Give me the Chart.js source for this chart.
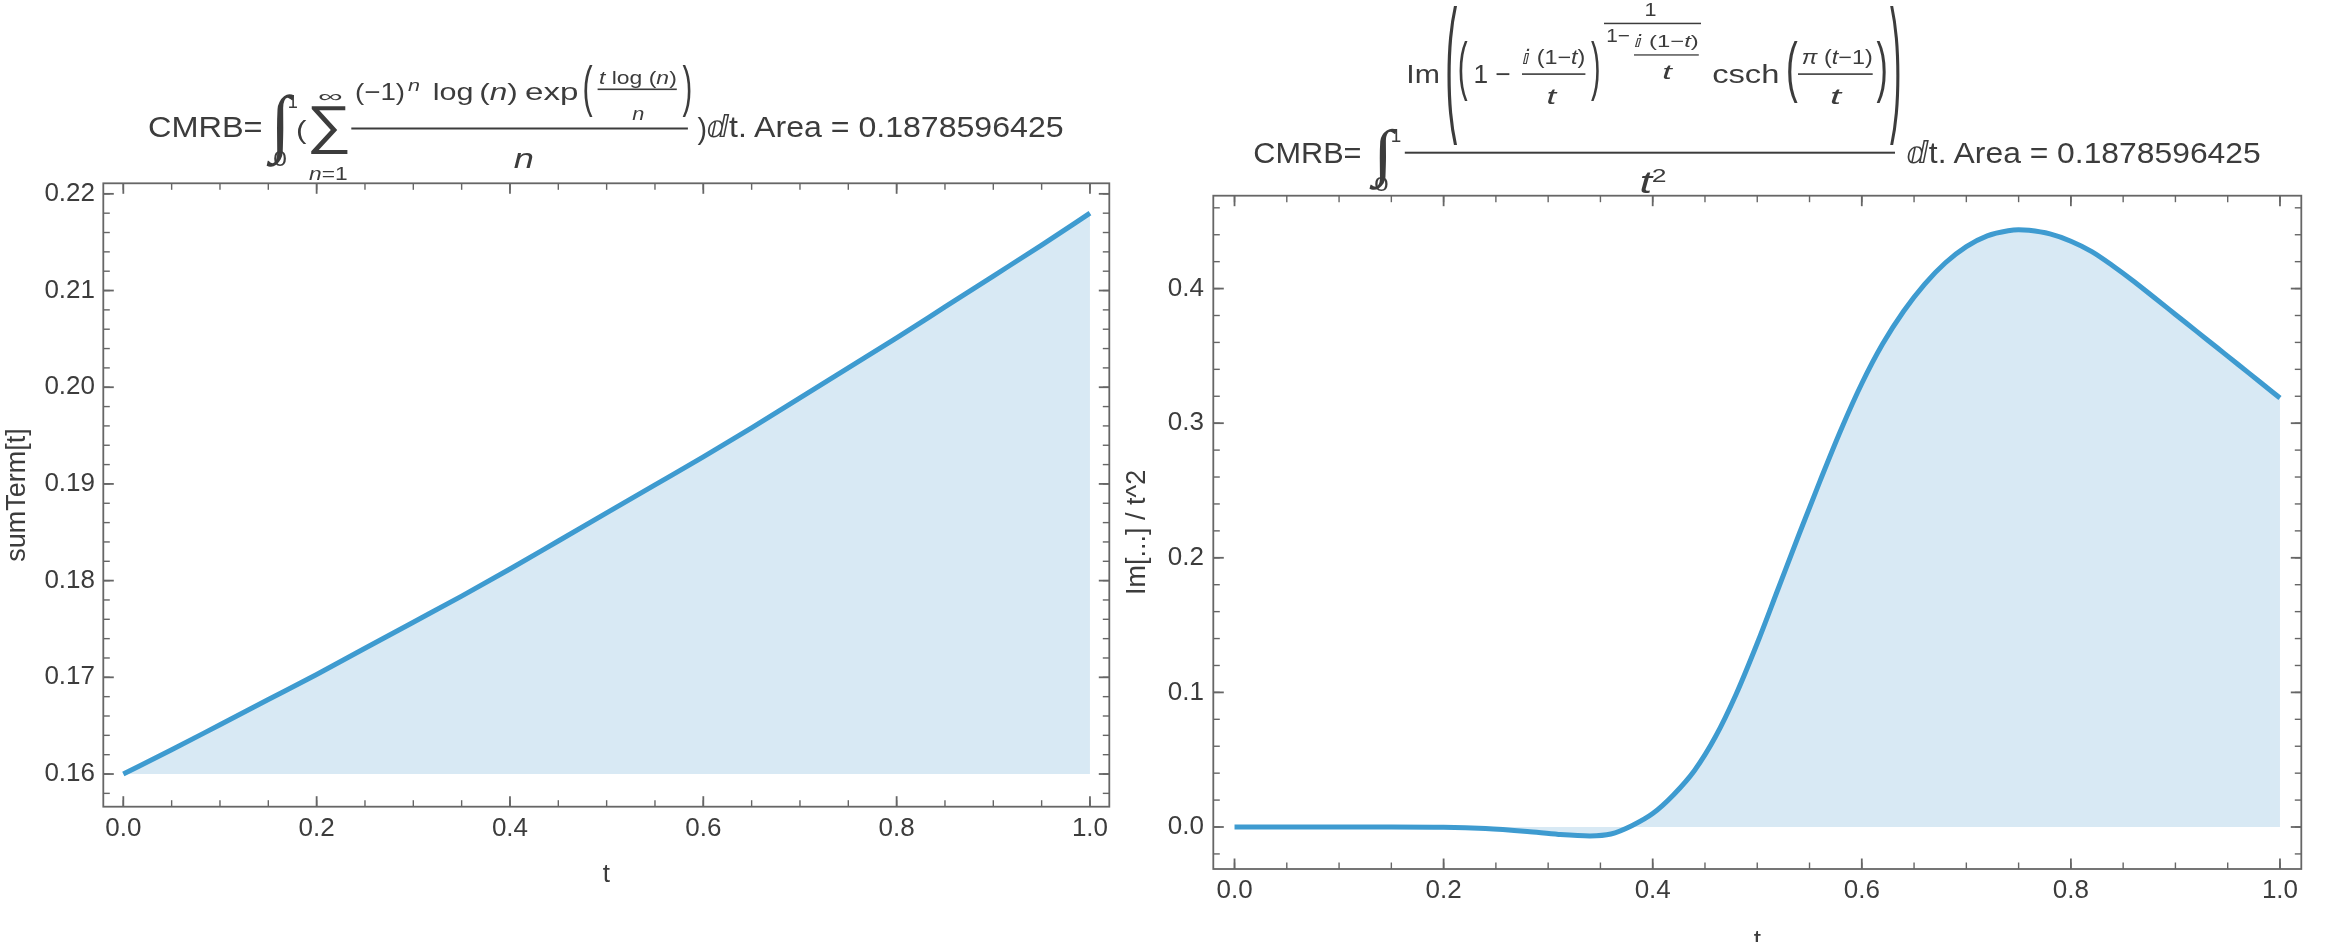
<!DOCTYPE html>
<html>
<head>
<meta charset="utf-8">
<script src="https://cdn.jsdelivr.net/npm/chart.js@4.4.1/dist/chart.umd.min.js"></script>
<style>
  html, body { margin: 0; padding: 0; background: #fff; overflow: hidden; }
  #wrap { position: relative; width: 2330px; height: 942px; overflow: hidden; }
  #leftChart { position: absolute; left: 0; top: 0; }
  #rightChart { position: absolute; left: 1112px; top: 0; }
  #titles { position: absolute; left: 0; top: 0; pointer-events: none; }
</style>
</head>
<body>
<div id="wrap">
  <canvas id="leftChart" width="1165" height="942"></canvas>
  <canvas id="rightChart" width="1218" height="1000"></canvas>
  <svg id="titles" width="2330" height="942" xmlns="http://www.w3.org/2000/svg"></svg>
</div>
<script>
// ---- data ----
const leftT = [0, 0.05, 0.1, 0.15, 0.2, 0.25, 0.3, 0.35, 0.4, 0.45, 0.5,
               0.55, 0.6, 0.65, 0.7, 0.75, 0.8, 0.85, 0.9, 0.95, 1.0];
const leftSum = [0.1600, 0.1625, 0.1651, 0.1677, 0.1703, 0.1730, 0.1757, 0.1784, 0.1812, 0.1841, 0.1870,
                 0.1899, 0.1928, 0.1958, 0.1989, 0.2020, 0.2051, 0.2083, 0.2115, 0.2147, 0.2180];

const rightT = [0, 0.05, 0.10, 0.15, 0.20, 0.24, 0.28, 0.31, 0.34, 0.36, 0.38, 0.40, 0.42, 0.44,
                0.46, 0.48, 0.50, 0.52, 0.54, 0.56, 0.58, 0.60, 0.62, 0.64, 0.66, 0.68, 0.70, 0.72,
                0.74, 0.75, 0.76, 0.78, 0.80, 0.82, 0.84, 0.86, 0.88, 0.90, 0.92, 0.94, 0.96, 0.98, 1.00];
const rightIm = [0, 0, 0, 0, -0.0002, -0.0012, -0.0034, -0.0055, -0.0066, -0.0052, 0.0010, 0.0100, 0.0240, 0.0420,
                 0.0670, 0.0990, 0.1365, 0.1770, 0.2175, 0.2570, 0.2950, 0.3295, 0.3590, 0.3832, 0.4032, 0.4192, 0.4312, 0.4392,
                 0.4430, 0.4437, 0.4433, 0.4406, 0.4352, 0.4275, 0.4170, 0.4055, 0.3932, 0.3808, 0.3684, 0.3560, 0.3436, 0.3311, 0.3187];

const xTicks = [0, 0.2, 0.4, 0.6, 0.8, 1.0];
const leftYTicks = [0.16, 0.17, 0.18, 0.19, 0.20, 0.21, 0.22];
const rightYTicks = [0, 0.1, 0.2, 0.3, 0.4];

const lineBlue = 'rgb(62,155,208)';
const fillBlue = 'rgb(216,233,244)';
const frameGray = 'rgb(102,102,102)';
const textGray = 'rgb(60,60,60)';

Chart.defaults.font.family = '"Liberation Sans", Arial, sans-serif';
Chart.defaults.color = textGray;

// Mathematica style frame: box plus inward major/minor ticks on all four sides
const framePlugin = {
  id: 'frame',
  afterDraw(chart, args, opts) {
    const { ctx, chartArea: a, scales } = chart;
    const xs = scales.x, ys = scales.y;
    ctx.save();
    ctx.strokeStyle = frameGray;
    const seg = (x1, y1, x2, y2, w) => {
      ctx.lineWidth = w;
      ctx.beginPath(); ctx.moveTo(x1, y1); ctx.lineTo(x2, y2); ctx.stroke();
    };
    const step = (from, to, d) => {
      const out = [];
      for (let i = 0; from + i * d <= to + 1e-9; i++) out.push(+(from + i * d).toFixed(6));
      return out;
    };
    step(opts.xMinor[0], opts.xMinor[1], opts.xMinor[2]).forEach(v => {
      const p = xs.getPixelForValue(v);
      if (p < a.left || p > a.right) return;
      seg(p, a.bottom, p, a.bottom - 6.5, 1.4);
      seg(p, a.top, p, a.top + 6.5, 1.4);
    });
    step(opts.yMinor[0], opts.yMinor[1], opts.yMinor[2]).forEach(v => {
      const p = ys.getPixelForValue(v);
      if (p < a.top || p > a.bottom) return;
      seg(a.left, p, a.left + 6.5, p, 1.4);
      seg(a.right, p, a.right - 6.5, p, 1.4);
    });
    xTicks.forEach(v => {
      const p = xs.getPixelForValue(v);
      seg(p, a.bottom, p, a.bottom - 10.5, 1.8);
      seg(p, a.top, p, a.top + 10.5, 1.8);
    });
    opts.yMajor.forEach(v => {
      const p = ys.getPixelForValue(v);
      seg(a.left, p, a.left + 10.5, p, 1.8);
      seg(a.right, p, a.right - 10.5, p, 1.8);
    });
    ctx.lineWidth = 1.8;
    ctx.strokeRect(a.left, a.top, a.right - a.left, a.bottom - a.top);
    ctx.restore();
  }
};

function makeChart(id, cfg) {
  return new Chart(document.getElementById(id), {
    type: 'line',
    data: {
      datasets: [{
        data: cfg.t.map((t, i) => ({ x: t, y: cfg.v[i] })),
        borderColor: lineBlue,
        borderWidth: 5,
        pointRadius: 0,
        cubicInterpolationMode: 'monotone',
        fill: { value: cfg.fillTo },
        backgroundColor: fillBlue
      }]
    },
    options: {
      responsive: false,
      animation: false,
      layout: { padding: cfg.padding },
      plugins: {
        legend: { display: false },
        tooltip: { enabled: false },
        frame: { xMinor: [0, 1, 0.05], yMinor: cfg.yMinor, yMajor: cfg.yTicks }
      },
      scales: {
        x: {
          type: 'linear',
          min: cfg.xMin, max: cfg.xMax,
          afterBuildTicks: s => { s.ticks = xTicks.map(v => ({ value: v })); },
          afterFit: s => { s.height = cfg.xHeight; },
          ticks: { padding: 6.7, font: { size: 26 }, color: textGray, maxRotation: 0, autoSkip: false,
                   callback: v => v.toFixed(1) },
          grid: { display: false, drawTicks: false },
          border: { display: false },
          title: { display: true, text: 't', font: { size: 26 }, color: textGray,
                   padding: { top: 0, bottom: cfg.xTitlePad } }
        },
        y: {
          type: 'linear',
          min: cfg.yMin, max: cfg.yMax,
          afterBuildTicks: s => { s.ticks = cfg.yTicks.map(v => ({ value: v })); },
          afterFit: s => { s.width = cfg.yWidth; },
          ticks: { padding: cfg.yTickPad, font: { size: 26 }, color: textGray,
                   callback: v => v.toFixed(cfg.yDigits) },
          grid: { display: false, drawTicks: false },
          border: { display: false },
          title: { display: true, text: cfg.yTitle, font: { size: 27 }, color: textGray,
                   padding: { top: cfg.yTitlePad, bottom: 0 } }
        }
      }
    },
    plugins: [framePlugin]
  });
}

makeChart('leftChart', {
  t: leftT, v: leftSum, fillTo: 0.16,
  xMin: -0.0207, xMax: 1.0200, yMin: 0.15662, yMax: 0.22109,
  yTicks: leftYTicks, yMinor: [0.158, 0.220, 0.002], yDigits: 2,
  padding: { top: 183.3, right: 55.7, bottom: 0, left: 0 },
  xHeight: 135.3, yWidth: 103.3, xTitlePad: 51.4, yTickPad: 8.3, yTitlePad: 1,
  yTitle: 'sumTerm[t]'
});

makeChart('rightChart', {
  t: rightT, v: rightIm, fillTo: 0,
  xMin: -0.0203, xMax: 1.0204, yMin: -0.0312, yMax: 0.469,
  yTicks: rightYTicks, yMinor: [-0.02, 0.46, 0.02], yDigits: 1,
  padding: { top: 195.7, right: 28.7, bottom: 0, left: 0 },
  xHeight: 131, yWidth: 101.3, xTitlePad: 43.9, yTickPad: 9.3, yTitlePad: 9,
  yTitle: 'Im[...] / t^2'
});

// ---- plot labels (typeset formulas) ----
const svg = document.getElementById('titles');
const NS = 'http://www.w3.org/2000/svg';
const mctx = document.createElement('canvas').getContext('2d');
const SANS = 'Liberation Sans', SERIF = 'Liberation Serif', DJ = 'DejaVu Sans';

// one glyph, stretched so that its ink fills the box
function glyph(ch, x0, y0, x1, y1, family = SANS, italic = false) {
  mctx.font = `${italic ? 'italic ' : ''}100px "${family}"`;
  const m = mctx.measureText(ch);
  const l = -m.actualBoundingBoxLeft, r = m.actualBoundingBoxRight;
  const t = -m.actualBoundingBoxAscent, b = m.actualBoundingBoxDescent;
  const sx = (x1 - x0) / (r - l), sy = (y1 - y0) / (b - t);
  const el = document.createElementNS(NS, 'text');
  el.setAttribute('transform', `translate(${x0 - l * sx},${y0 - t * sy}) scale(${sx},${sy})`);
  el.setAttribute('font-family', family);
  el.setAttribute('font-size', 100);
  if (italic) el.setAttribute('font-style', 'italic');
  el.setAttribute('fill', textGray);
  el.textContent = ch;
  svg.appendChild(el);
}

// a run of text from x0 to x1 on a baseline; parts are [text, 'i' | 'dj' | '']
function run(parts, x0, x1, base, size) {
  const el = document.createElementNS(NS, 'text');
  el.setAttribute('x', x0);
  el.setAttribute('y', base);
  el.setAttribute('font-family', SANS);
  el.setAttribute('font-size', size);
  el.setAttribute('fill', textGray);
  el.setAttribute('textLength', x1 - x0);
  el.setAttribute('lengthAdjust', 'spacingAndGlyphs');
  el.style.whiteSpace = 'pre';
  parts.forEach(([s, kind]) => {
    const sp = document.createElementNS(NS, 'tspan');
    if (kind === 'i') sp.setAttribute('font-style', 'italic');
    if (kind === 'dj') sp.setAttribute('font-family', DJ);
    sp.textContent = s;
    el.appendChild(sp);
  });
  svg.appendChild(el);
}

function bar(x0, x1, y, h) {
  const el = document.createElementNS(NS, 'rect');
  el.setAttribute('x', x0); el.setAttribute('y', y);
  el.setAttribute('width', x1 - x0); el.setAttribute('height', h);
  el.setAttribute('fill', textGray);
  svg.appendChild(el);
}

// left: CMRB = ∫0^1 ( Σ (-1)^n log(n) exp(t log(n)/n) / n ) dt. Area = ...
run([['CMRB=', '']], 148, 262.6, 137.3, 30);
glyph('∫', 266.3, 94, 294.4, 167.3, SERIF);
glyph('1', 289, 95, 297, 108.3);
glyph('0', 274, 151, 286, 166.7);
glyph('(', 298, 120, 306.5, 145);
glyph('∑', 311, 106, 347.6, 154.3);
glyph('∞', 319.5, 93.3, 341.7, 100);
run([['n', 'i'], ['=1', '']], 309, 347.6, 180, 19);
bar(351.3, 687.9, 127.5, 2);
run([['(−1)', '']], 355, 405, 99.5, 24);
run([['n', 'i']], 408, 420, 91, 17);
run([['log', '']], 432.7, 473.4, 99.5, 24);
run([['(', ''], ['n', 'i'], [')', '']], 479.3, 517.8, 99.5, 24);
run([['exp', '']], 525, 578.4, 99.5, 24);
glyph('(', 584.3, 64.3, 592.5, 117.3);
run([['t', 'i'], [' log (', ''], ['n', 'i'], [')', '']], 599, 676.8, 84, 19);
bar(597.6, 676.8, 88.5, 1.6);
glyph('n', 632.4, 110, 643.5, 120, SANS, true);
glyph(')', 682.5, 64.3, 690.7, 117.3);
glyph('n', 514, 153.5, 532.5, 168.3, SANS, true);
glyph(')', 697.5, 117, 705.5, 145);
run([['ⅆ', 'dj'], ['t. Area = 0.1878596425', '']], 706.4, 1063.6, 137.3, 30);

// right: CMRB = ∫0^1 Im(...)/t^2 dt. Area = ...
run([['CMRB=', '']], 1253.3, 1361.5, 162.7, 30);
glyph('∫', 1369, 128.3, 1397, 190, SERIF);
glyph('1', 1392, 129.3, 1400.3, 141.7);
glyph('0', 1375, 177, 1387.6, 190.7);
bar(1404.8, 1895, 151.7, 2);
run([['Im', '']], 1406.3, 1439.9, 83.3, 26);
glyph('(', 1447.3, 5, 1457, 145);
glyph(')', 1890, 5, 1899.7, 145);
glyph('(', 1459.5, 40, 1467.5, 101.7);
run([['1 −', '']], 1473.4, 1510.7, 83.3, 26);
run([['ⅈ', 'dj'], [' (1−', ''], ['t', 'i'], [')', '']], 1522, 1585.4, 64, 20);
bar(1522, 1585.4, 73.3, 1.6);
glyph('t', 1548, 89, 1557.8, 104, SANS, true);
glyph(')', 1591, 40, 1599, 101.7);
glyph('1', 1646, 3, 1655.5, 16);
bar(1604, 1701, 22.7, 1.5);
run([['1−', '']], 1606.3, 1630, 41.7, 19);
run([['ⅈ', 'dj'], [' (1−', ''], ['t', 'i'], [')', '']], 1634, 1698.8, 47, 17);
bar(1634, 1698.8, 54.3, 1.3);
glyph('t', 1663.7, 66, 1673.4, 79, SANS, true);
run([['csch', '']], 1712.2, 1779.4, 83.3, 26);
glyph('(', 1788, 40, 1797.5, 103.3);
run([['π', 'i'], [' (', ''], ['t', 'i'], ['−1)', '']], 1801.8, 1872.7, 64, 20);
bar(1798, 1872.7, 73.3, 1.6);
glyph('t', 1831.6, 89, 1842.8, 104, SANS, true);
glyph(')', 1876.5, 40, 1886, 103.3);
glyph('t', 1641.3, 173, 1654, 193.3, SANS, true);
glyph('2', 1653, 168.3, 1665.2, 181.7);
run([['ⅆ', 'dj'], ['t. Area = 0.1878596425', '']], 1906.3, 2260.7, 162.7, 30);
</script>
</body>
</html>
